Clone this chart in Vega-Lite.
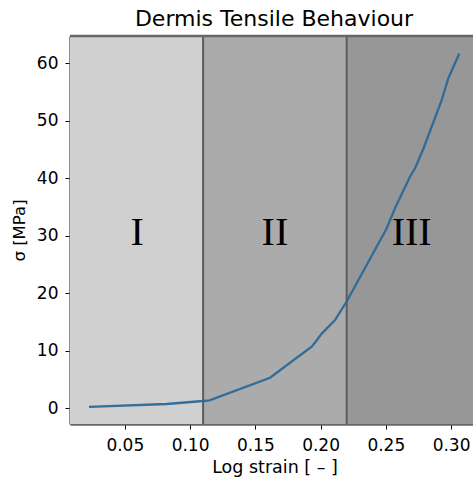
{
  "$schema": "https://vega.github.io/schema/vega-lite/v6.json",
  "autosize": "none",
  "width": 403,
  "height": 388,
  "padding": {"left": 70, "top": 36, "right": 0, "bottom": 53},
  "background": "white",
  "config": {
    "view": {"stroke": null},
    "font": "DejaVu Sans",
    "axis": {
      "labelFont": "DejaVu Sans",
      "titleFont": "DejaVu Sans",
      "labelFontSize": 17,
      "titleFontSize": 17.5,
      "titleFontWeight": "normal",
      "labelColor": "#000000",
      "titleColor": "#000000",
      "tickColor": "#000000",
      "tickSize": 5,
      "tickWidth": 1,
      "domainColor": "#666666",
      "domainWidth": 2.5,
      "grid": false,
      "zindex": 1
    }
  },
  "title": {
    "text": "Dermis Tensile Behaviour",
    "font": "DejaVu Sans",
    "fontSize": 22,
    "fontWeight": "normal",
    "color": "#000000",
    "anchor": "middle",
    "offset": 4,
    "dx": 2.5
  },
  "datasets": {
    "regions": [
      {"region": "I", "start": 0.0, "end": 0.11, "shade": "#d0d0d0"},
      {"region": "II", "start": 0.11, "end": 0.22, "shade": "#ababab"},
      {"region": "III", "start": 0.22, "end": 0.34, "shade": "#979797"}
    ],
    "bounds": [{"b": 0.11}, {"b": 0.22}],
    "labels": [
      {"label": "I", "x": 0.0595, "y": 28.4},
      {"label": "II", "x": 0.165, "y": 28.4},
      {"label": "III", "x": 0.2698, "y": 28.4}
    ],
    "curve": [
      {"strain": 0.0226, "stress": 0.25},
      {"strain": 0.0821, "stress": 0.75},
      {"strain": 0.1099, "stress": 1.27},
      {"strain": 0.1149, "stress": 1.39},
      {"strain": 0.1613, "stress": 5.32},
      {"strain": 0.1934, "stress": 10.75},
      {"strain": 0.2011, "stress": 13.04},
      {"strain": 0.2111, "stress": 15.36},
      {"strain": 0.2200, "stress": 18.57},
      {"strain": 0.2350, "stress": 24.8},
      {"strain": 0.2507, "stress": 31.3},
      {"strain": 0.2570, "stress": 34.8},
      {"strain": 0.2685, "stress": 40.28},
      {"strain": 0.2724, "stress": 41.74},
      {"strain": 0.2787, "stress": 45.1},
      {"strain": 0.2928, "stress": 53.6},
      {"strain": 0.2979, "stress": 57.4},
      {"strain": 0.3063, "stress": 61.7}
    ]
  },
  "encoding": {
    "x": {
      "type": "quantitative",
      "scale": {"domain": [0.008, 0.3168], "nice": false, "zero": false},
      "axis": {
        "title": "Log strain [ – ]",
        "values": [0.05, 0.1, 0.15, 0.2, 0.25, 0.3],
        "format": ".2f",
        "labelPadding": 8,
        "titlePadding": 5,
        "titleX": 204.5
      }
    }
  },
  "layer": [
    {
      "data": {"name": "regions"},
      "mark": {"type": "rect", "clip": true},
      "encoding": {
        "x": {"field": "start", "type": "quantitative"},
        "x2": {"field": "end"},
        "color": {"field": "shade", "type": "nominal", "scale": null}
      }
    },
    {
      "data": {"name": "bounds"},
      "mark": {"type": "rule", "color": "#5c5c5c", "strokeWidth": 2},
      "encoding": {
        "x": {"field": "b", "type": "quantitative"}
      }
    },
    {
      "data": {"name": "curve"},
      "mark": {"type": "line", "color": "#2a6998", "strokeWidth": 2.3, "opacity": 0.95},
      "encoding": {
        "x": {"field": "strain", "type": "quantitative"},
        "y": {
          "field": "stress",
          "type": "quantitative",
          "scale": {"domain": [-2.73, 64.75], "nice": false, "zero": false},
          "axis": {
            "title": "σ [MPa]",
            "titleFontSize": 16.5,
            "values": [0, 10, 20, 30, 40, 50, 60],
            "labelPadding": 7,
            "titlePadding": 9
          }
        }
      }
    },
    {
      "data": {"name": "labels"},
      "mark": {"type": "text", "font": "Liberation Serif", "fontSize": 40, "color": "#000000", "baseline": "alphabetic", "align": "center"},
      "encoding": {
        "x": {"field": "x", "type": "quantitative"},
        "y": {"field": "y", "type": "quantitative"},
        "text": {"field": "label"}
      }
    },
    {
      "data": {"values": [{"top": 64.75}]},
      "mark": {"type": "rule", "color": "#666666", "strokeWidth": 2.5},
      "encoding": {
        "y": {"field": "top", "type": "quantitative"}
      }
    }
  ]
}
